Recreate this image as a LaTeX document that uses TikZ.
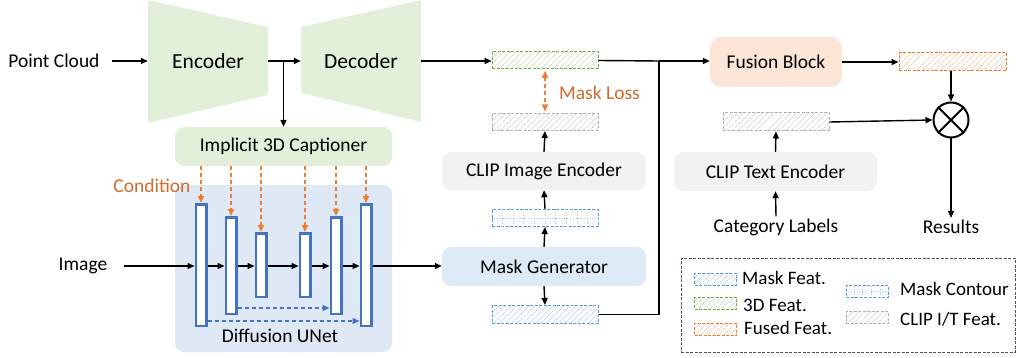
\documentclass[tikz,border=0pt]{standalone}
\usepackage{fontspec}
\setmainfont{Carlito}
\usetikzlibrary{arrows.meta,patterns.meta,calc}
\definecolor{cEnc}{HTML}{E2F0D9}
\definecolor{cUnet}{HTML}{DFE8F5}
\definecolor{cMG}{HTML}{DEEBF7}
\definecolor{cGray}{HTML}{F2F2F2}
\definecolor{cFus}{HTML}{FBE5D6}
\definecolor{cBar}{HTML}{4472C4}
\definecolor{cOr}{HTML}{ED7D31}
\definecolor{cOrT}{HTML}{D2692A}
\definecolor{cBlueB}{HTML}{5B9BD5}
\definecolor{cBlueH}{HTML}{9DC3E6}
\definecolor{cGreenB}{HTML}{70AD47}
\definecolor{cGreenH}{HTML}{A9D18E}
\definecolor{cOrH}{HTML}{F4B183}
\definecolor{cGrayB}{HTML}{AFAFAF}
\definecolor{cGrayH}{HTML}{BFBFBF}
\definecolor{cLeg}{HTML}{44546A}
\begin{document}
\begin{tikzpicture}[x=1pt,y=-1pt,
  txt/.style={font=\fontsize{19.5}{23}\selectfont, inner sep=2pt},
  big/.style={font=\fontsize{21.5}{24}\selectfont, inner sep=0pt, minimum width=120pt, minimum height=20pt},
  arr/.style={-{Triangle[length=7pt,width=6pt]}, line width=1.4pt, black},
  plain/.style={line width=1.4pt, black},
  cond/.style={-{Triangle[length=7pt,width=6pt]}, line width=1.6pt, cOr, dash pattern=on 4pt off 3pt},
  skip/.style={-{Triangle[length=7pt,width=6pt]}, line width=1.3pt, cBar, dash pattern=on 4pt off 3pt},
  rbox/.style={txt, rounded corners=9pt, inner sep=0pt},
  bar/.style={draw=cBar, fill=white, line width=2.5pt, inner sep=0pt, minimum width=10.5pt},
  feat/.style={inner sep=0pt, minimum width=106pt, minimum height=17pt, line width=1pt, dash pattern=on 3pt off 1.5pt},
  hatch/.style={pattern={Lines[angle=45,distance=4pt,line width=0.6pt]}, pattern color=#1},
  maskf/.style={feat, draw=cBlueB, hatch=cBlueH},
  threed/.style={feat, draw=cGreenB, hatch=cGreenH},
  fused/.style={feat, draw=cOr, hatch=cOrH},
  clipf/.style={feat, draw=cGrayB, hatch=cGrayH},
  contourf/.style={feat, draw=cBlueB, fill=white},
  cgrid/.style={cBlueH, line width=0.8pt, dotted},
  leg/.style={inner sep=0pt, minimum width=42pt, minimum height=12pt, line width=1pt, dash pattern=on 3pt off 1.5pt},
  legtxt/.style={font=\fontsize{19}{22}\selectfont, inner sep=0pt, anchor=west}
]
\useasboundingbox (0,0) rectangle (1016,358);

% ---------- encoder / decoder ----------
\fill[cEnc] (148,0) -- (268,27) -- (268,95) -- (148,123) -- cycle;
\fill[cEnc] (301,27) -- (421,0) -- (421,122) -- (301,93) -- cycle;
\node[txt] (pc) at (54,61) {Point Cloud};
\node[big] (enc) at (208,61) {Encoder};
\node[big] (dec) at (361,61) {Decoder};
\draw[arr, shorten <=10pt] (pc.east) -- (enc.west);
\draw[arr] (enc.east) -- (dec.west);

% ---------- captioner ----------
\node[rbox, fill=cEnc, minimum width=217pt, minimum height=39pt] (cap) at (283.5,146.5) {Implicit 3D Captioner};
\draw[arr] (cap.north |- enc.east) -- (cap.north);

% ---------- UNet ----------
\node[fill=cUnet, rounded corners=9pt, minimum width=217pt, minimum height=167pt, inner sep=0pt] (unet) at (283.5,268.5) {};
\node[txt] (unetlbl) at (280,336) {Diffusion UNet};
\node[txt, text=cOrT] (condlbl) at (152,186) {Condition};

\node[bar, minimum height=121.5pt] (b1) at (201,265) {};
\node[bar, minimum height=96.5pt]  (b2) at (231,265.5) {};
\node[bar, minimum height=63.5pt]  (b3) at (261,265) {};
\node[bar, minimum height=63.5pt]  (b4) at (305,265) {};
\node[bar, minimum height=96.5pt]  (b5) at (336,265.5) {};
\node[bar, minimum height=121.5pt] (b6) at (366,265) {};

\foreach \b in {b1,b2,b3,b4,b5,b6}
  \draw[cond] (cap.south -| \b.north) -- (\b.north);

\node[txt] (img) at (83,266) {Image};
\draw[arr, shorten <=15pt] (img.east) -- (img.east -| b1.west);
\draw[arr] (b1.east |- img.east) -- (b2.west |- img.east);
\draw[arr] (b2.east |- img.east) -- (b3.west |- img.east);
\draw[arr] (b3.east |- img.east) -- (b4.west |- img.east);
\draw[arr] (b4.east |- img.east) -- (b5.west |- img.east);
\draw[arr] (b5.east |- img.east) -- (b6.west |- img.east);

\draw[skip] ([yshift=7pt]b2.south east) -- ([yshift=7pt]b2.south east -| b5.west);
\draw[skip] ([yshift=6pt]b1.south east) -- ([yshift=6pt]b1.south east -| b6.west);

% ---------- middle column ----------
\node[threed] (f3d) at (545,60.5) {};
\node[clipf] (fimg) at (545,122) {};
\node[rbox, fill=cGray, minimum width=204pt, minimum height=38pt] (clipimg) at (544,171) {CLIP Image Encoder};
\node[contourf] (contour) at (545,218) {};
\foreach \i [evaluate=\i as \f using \i/10] in {1,...,9}
  \draw[cgrid] ($(contour.south west)!\f!(contour.south east)$) -- ($(contour.north west)!\f!(contour.north east)$);
\draw[cgrid] (contour.west) -- (contour.east);
\node[rbox, fill=cMG, minimum width=204pt, minimum height=39pt] (mg) at (544,266.5) {Mask Generator};
\node[maskf, minimum height=18pt] (mfeat) at (545,314.5) {};

\draw[arr] (b6.east |- img.east) -- (mg.west |- img.east);
\draw[arr] (dec.east) -- (dec.east -| f3d.west);
\draw[{Triangle[length=7pt,width=6pt]}-{Triangle[length=7pt,width=6pt]}, line width=1.5pt, cOr, dash pattern=on 4pt off 3pt, shorten <=1.5pt, shorten >=1.5pt] (f3d.south) -- (fimg.north);
\node[txt, text=cOrT, anchor=west] (ml) at (557,93) {Mask Loss};
\draw[arr] (clipimg.north) -- (fimg.south);
\draw[arr] (contour.north) -- (clipimg.south);
\draw[arr] (mg.north) -- (contour.south);
\draw[arr] (mg.south) -- (mfeat.north);

\coordinate (j) at (659,61);
\draw[plain] (f3d.east) -- (j);
\draw[plain] (mfeat.east) -| (j);

% ---------- right part ----------
\node[rbox, fill=cFus, minimum width=132pt, minimum height=50pt, rounded corners=11pt] (fus) at (776,62) {Fusion Block};
\draw[arr] (j) -- (j -| fus.west);
\node[fused, minimum width=107pt, minimum height=18pt] (ffused) at (952.5,62) {};
\draw[arr] (fus.east) -- (ffused.west);
\node[draw, circle, line width=2pt, minimum size=35pt, inner sep=0pt] (ot) at (951,120) {};
\draw[line width=2pt] (ot.north west) -- (ot.south east);
\draw[line width=2pt] (ot.north east) -- (ot.south west);
\draw[arr] (ffused.south -| ot.north) -- (ot.north);
\node[clipf, minimum height=18pt] (ftxt) at (776,122) {};
\draw[arr] (ftxt.east) -- (ot.west);
\node[rbox, fill=cGray, minimum width=203pt, minimum height=39pt] (cliptxt) at (775.5,171.5) {CLIP Text Encoder};
\draw[arr] (cliptxt.north) -- (ftxt.south);
\node[txt] (cat) at (776,227) {Category Labels};
\draw[arr] (cat.north) -- (cliptxt.south);
\node[txt] (res) at (951,227) {Results};
\draw[arr] (ot.south) -- (res.north);

% ---------- legend ----------
\node[draw=cLeg, line width=1pt, dash pattern=on 3pt off 1.5pt, minimum width=334pt, minimum height=94pt, inner sep=0pt] (legend) at (848,305) {};
\node[leg, draw=cBlueB, hatch=cBlueH] (lg1) at (715.5,279) {};
\node[legtxt] (lt1) at (742,278) {Mask Feat.};
\node[leg, draw=cGreenB, hatch=cGreenH] (lg2) at (715.5,303) {};
\node[legtxt] (lt2) at (743,305) {3D Feat.};
\node[leg, draw=cOr, hatch=cOrH] (lg3) at (715.5,329.5) {};
\node[legtxt] (lt3) at (744,328) {Fused Feat.};
\node[leg, draw=cBlueB, fill=white] (lg4) at (867,291.5) {};
\foreach \i [evaluate=\i as \f using \i/5] in {1,...,4}
  \draw[cgrid] ($(lg4.south west)!\f!(lg4.south east)$) -- ($(lg4.north west)!\f!(lg4.north east)$);
\draw[cgrid] (lg4.west) -- (lg4.east);
\node[legtxt] (lt4) at (900,289) {Mask Contour};
\node[leg, draw=cGrayB, hatch=cGrayH] (lg5) at (867,317.5) {};
\node[legtxt] (lt5) at (900,319) {CLIP I/T Feat.};
\end{tikzpicture}
\end{document}
